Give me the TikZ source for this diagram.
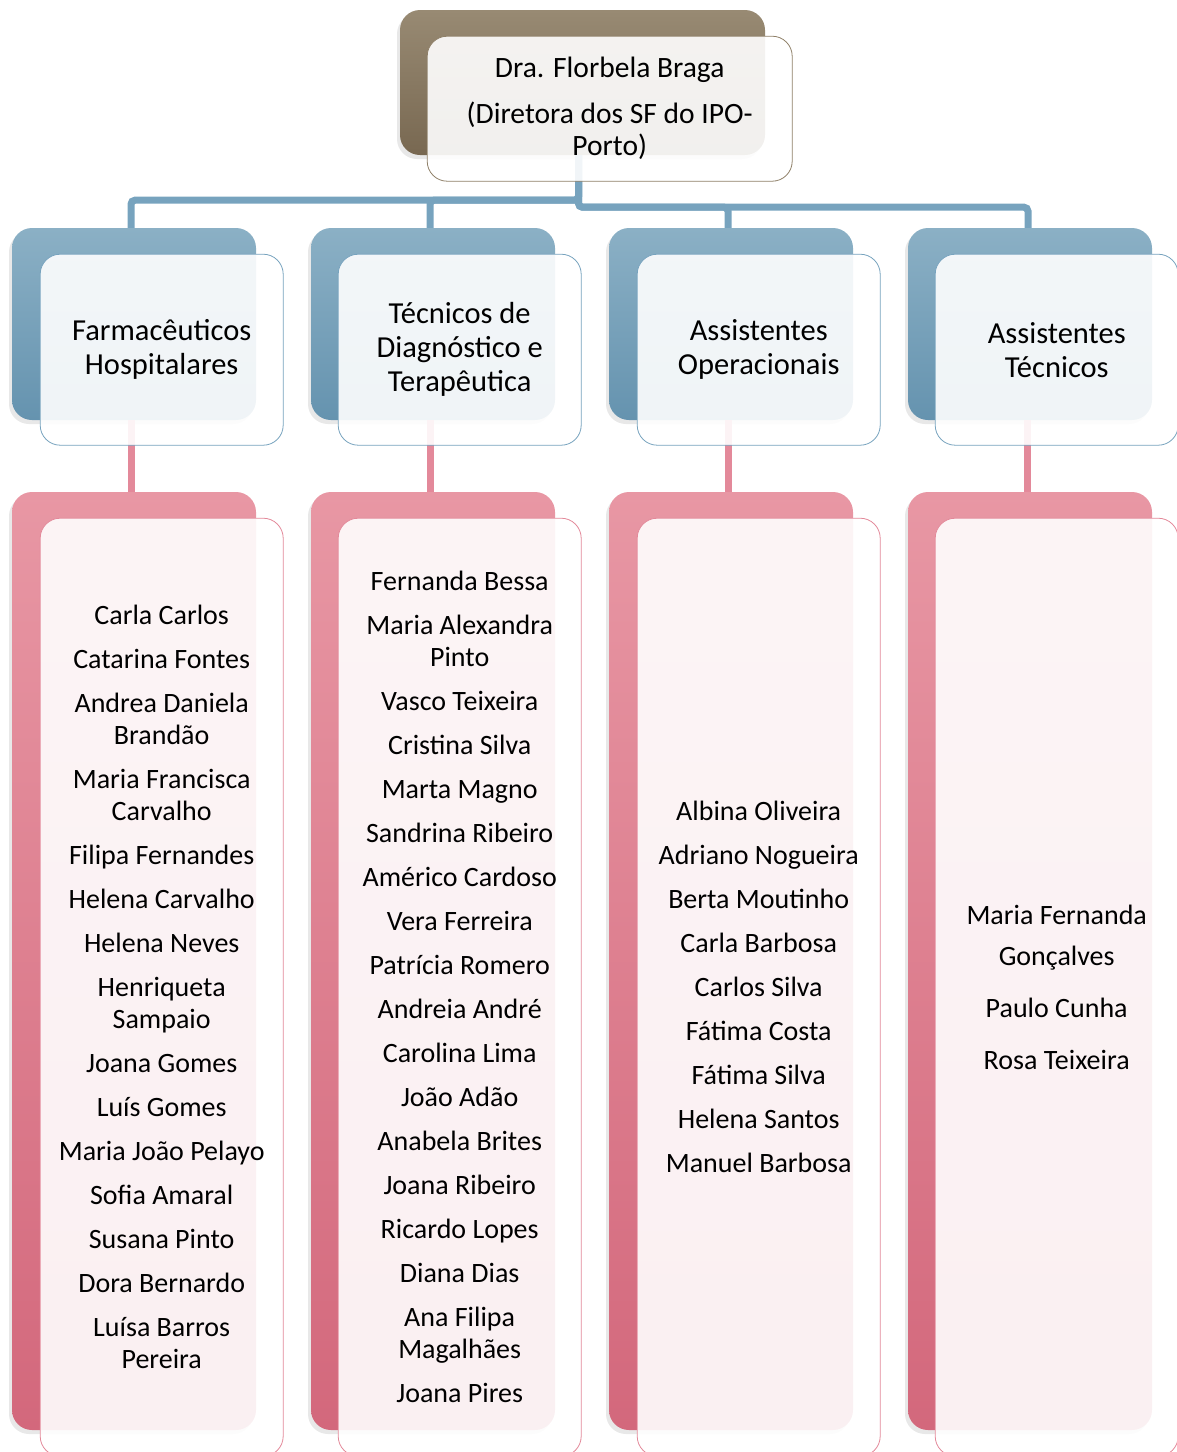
\documentclass[tikz,border=0pt]{standalone}
\usepackage{fontspec}
\setmainfont{Carlito}
\usepackage{xcolor}
\usetikzlibrary{positioning,shadows}

\definecolor{brownT}{HTML}{988A73}
\definecolor{brownB}{HTML}{786851}
\definecolor{brownL}{HTML}{8F8068}
\definecolor{blueT}{HTML}{8BB0C5}
\definecolor{blueB}{HTML}{6593AF}
\definecolor{blueL}{HTML}{77A3BE}
\definecolor{pinkT}{HTML}{E897A4}
\definecolor{pinkB}{HTML}{D3687C}
\definecolor{pinkL}{HTML}{E3899A}

\begin{document}
\begin{tikzpicture}[x=1pt, y=-1pt,
  back/.style={rounded corners=20pt, inner sep=0pt, minimum width=244pt,
    drop shadow={opacity=0.18, shadow xshift=-3pt, shadow yshift=-4pt}},
  brownbk/.style={back, top color=brownT, bottom color=brownB, minimum width=365pt, minimum height=145pt},
  bluebk/.style={back, top color=blueT, bottom color=blueB, minimum height=192pt},
  pinkbk/.style={back, top color=pinkT, bottom color=pinkB, minimum height=938pt},
  front/.style={draw, line width=0.8pt, rounded corners=20pt, fill=white, fill opacity=0.9,
    text opacity=1, align=center, inner sep=0pt, minimum width=243pt, anchor=north west},
  headtxt/.style={front, draw=blueL, minimum height=191pt,
    font=\fontsize{30.5}{34}\selectfont},
  listtxt/.style={front, draw=pinkL, minimum height=938pt,
    font=\fontsize{28}{32}\selectfont},
  bline/.style={line width=7pt, draw=blueL, rounded corners=4pt},
  pline/.style={line width=7pt, draw=pinkL}]
\useasboundingbox (0,0) rectangle (1177,1452);

% back boxes
\node[brownbk] (top) at (582.5,82.5) {};
\node[bluebk] (hb1) at (134,324) {};
\node[bluebk] (hb2) at (433,324) {};
\node[bluebk] (hb3) at (731,324) {};
\node[bluebk] (hb4) at (1030,324) {};
\node[pinkbk] (lb1) at (134,961) {};
\node[pinkbk] (lb2) at (433,961) {};
\node[pinkbk] (lb3) at (731,961) {};
\node[pinkbk] (lb4) at (1030,961) {};

% connectors
\draw[bline] ([xshift=-4pt]top.south) -- ++(0,45) -| ([xshift=-3pt]hb1.north);
\draw[bline] ([xshift=-4pt]top.south) -- ++(0,45) -| ([xshift=-3pt]hb2.north);
\draw[bline] ([xshift=-4pt]top.south) -- ++(0,52) -| ([xshift=-3pt]hb3.north);
\draw[bline] ([xshift=-4pt]top.south) -- ++(0,52) -| ([xshift=-2pt]hb4.north);
\foreach \i in {1,...,4}
  \draw[pline] ([xshift=-3pt]hb\i.south) -- ([xshift=-3pt]lb\i.north);

% front boxes
\node[front, draw=brownL, minimum width=365pt, minimum height=145pt,
  font=\fontsize{29.5}{32}\selectfont] (dir) at ([xshift=27pt,yshift=-26pt]top.north west)
  {Dra. Florbela Braga\\[14pt](Diretora dos SF do IPO-\\Porto)};

\node[headtxt] (h1) at ([xshift=28pt,yshift=-26pt]hb1.north west) {Farmacêuticos\\Hospitalares};
\node[headtxt] (h2) at ([xshift=27pt,yshift=-26pt]hb2.north west) {Técnicos de\\Diagnóstico e\\Terapêutica};
\node[headtxt] (h3) at ([xshift=28pt,yshift=-26pt]hb3.north west) {Assistentes\\Operacionais};
\node[headtxt] (h4) at ([xshift=27pt,yshift=-26pt]hb4.north west) {Assistentes\\Técnicos};

\node[listtxt] (l1) at ([xshift=28pt,yshift=-26pt]lb1.north west)
  {Carla Carlos\\[12pt]Catarina Fontes\\[12pt]Andrea Daniela\\Brandão\\[12pt]Maria Francisca\\Carvalho\\[12pt]Filipa Fernandes\\[12pt]Helena Carvalho\\[12pt]Helena Neves\\[12pt]Henriqueta\\Sampaio\\[12pt]Joana Gomes\\[12pt]Luís Gomes\\[12pt]Maria João Pelayo\\[12pt]Sofia Amaral\\[12pt]Susana Pinto\\[12pt]Dora Bernardo\\[12pt]Luísa Barros\\Pereira};
\node[listtxt] (l2) at ([xshift=27pt,yshift=-26pt]lb2.north west)
  {Fernanda Bessa\\[12pt]Maria Alexandra\\Pinto\\[12pt]Vasco Teixeira\\[12pt]Cristina Silva\\[12pt]Marta Magno\\[12pt]Sandrina Ribeiro\\[12pt]Américo Cardoso\\[12pt]Vera Ferreira\\[12pt]Patrícia Romero\\[12pt]Andreia André\\[12pt]Carolina Lima\\[12pt]João Adão\\[12pt]Anabela Brites\\[12pt]Joana Ribeiro\\[12pt]Ricardo Lopes\\[12pt]Diana Dias\\[12pt]Ana Filipa\\Magalhães\\[12pt]Joana Pires};
\node[listtxt] (l3) at ([xshift=28pt,yshift=-26pt]lb3.north west)
  {Albina Oliveira\\[12pt]Adriano Nogueira\\[12pt]Berta Moutinho\\[12pt]Carla Barbosa\\[12pt]Carlos Silva\\[12pt]Fátima Costa\\[12pt]Fátima Silva\\[12pt]Helena Santos\\[12pt]Manuel Barbosa};
\node[listtxt, font=\fontsize{28}{41}\selectfont] (l4) at ([xshift=27pt,yshift=-26pt]lb4.north west)
  {Maria Fernanda\\Gonçalves\\[11pt]Paulo Cunha\\[11pt]Rosa Teixeira};
\end{tikzpicture}
\end{document}
